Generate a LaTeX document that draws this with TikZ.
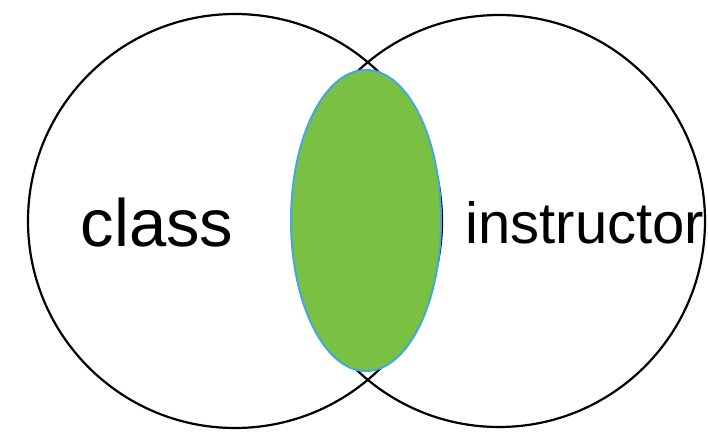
\documentclass[tikz,border=0pt]{standalone}
\usepackage{fontspec}
\setmainfont{Liberation Sans}
\definecolor{lensgreen}{HTML}{7AC143}
\definecolor{lensblue}{HTML}{41A8E0}
\begin{document}
\begin{tikzpicture}[x=1pt,y=-1pt,
  setcircle/.style={draw=black,line width=2.2pt},
  lens/.style={fill=lensgreen,draw=lensblue,line width=2pt},
  lbl/.style={inner sep=0pt,anchor=base west}]
\useasboundingbox (0,0) rectangle (708,431);
\fill[white] (0,0) rectangle (708,431);
\draw[setcircle] (235,221) circle[radius=207];
\draw[setcircle] (499,221) circle[radius=206];
\draw[lens] (366,220.5) ellipse[x radius=75,y radius=150.5];
\node[lbl,font=\fontsize{67}{67}\selectfont] (class) at (80.5,246.5) {class};
\node[lbl,font=\fontsize{58}{58}\selectfont] (instr) at (465.5,243.5) {instructor};
\end{tikzpicture}
\end{document}
